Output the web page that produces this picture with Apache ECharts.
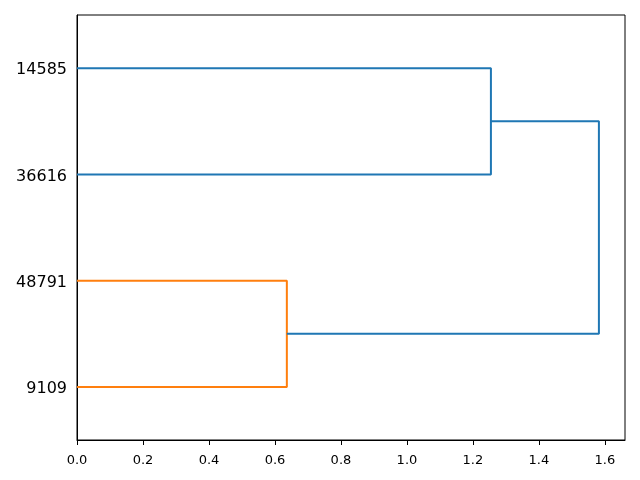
<!DOCTYPE html>
<html>
<head>
<meta charset="utf-8">
<script src="https://cdn.jsdelivr.net/npm/echarts@6/dist/echarts.min.js"></script>
<style>html,body{margin:0;padding:0;background:#fff;}#c{width:640px;height:480px;}</style>
</head>
<body>
<div id="c"></div>
<script>
// Leaf labels and their positions (scipy dendrogram coordinates)
var leafLabels = ['9109', '48791', '36616', '14585'];
var leafPos = [5, 15, 25, 35];
// Link coordinates: icoord = leaf-axis (y), dcoord = distance (x)
var icoord = [[5, 5, 15, 15], [25, 25, 35, 35], [10, 10, 30, 30]];
var dcoord = [[0, 0.636, 0.636, 0], [0, 1.2545, 1.2545, 0], [0.636, 1.5818, 1.5818, 1.2545]];
var linkColors = ['#ff7f0e', '#1f77b4', '#1f77b4'];
var xTicks = [0, 0.2, 0.4, 0.6, 0.8, 1.0, 1.2, 1.4, 1.6];
var xMax = 1.5818 * 1.05;
var yMax = 40;

var series = icoord.map(function (ys, i) {
  return {
    type: 'line',
    data: ys.map(function (y, j) { return [dcoord[i][j], y]; }),
    showSymbol: false,
    symbol: 'none',
    lineStyle: { color: linkColors[i], width: 2 },
    itemStyle: { color: linkColors[i] },
    animation: false,
    silent: true
  };
});

var chart = echarts.init(document.getElementById('c'), null, { renderer: 'canvas' });
chart.setOption({
  backgroundColor: '#fff',
  animation: false,
  grid: { left: 77, right: 15, top: 15, bottom: 40, show: true, borderColor: '#000', borderWidth: 1, backgroundColor: 'transparent' },
  xAxis: {
    type: 'value', min: 0, max: xMax,
    splitLine: { show: false },
    axisLine: { show: true, lineStyle: { color: '#000', width: 1 } },
    axisTick: { show: true, length: 5, customValues: xTicks, lineStyle: { color: '#000' } },
    axisLabel: { customValues: xTicks, margin: 11, color: '#000', fontSize: 13, fontFamily: 'DejaVu Sans',
      formatter: function (v) { return '{b|' + v.toFixed(1) + '}'; },
      rich: { b: { fontSize: 13, fontFamily: 'DejaVu Sans', color: '#000', padding: [3, 0, 0, 0] } } }
  },
  yAxis: {
    type: 'value', min: 0, max: yMax,
    splitLine: { show: false },
    axisLine: { show: true, lineStyle: { color: '#000', width: 1 } },
    axisTick: { show: false },
    axisLabel: { customValues: leafPos, margin: 10, color: '#000', fontSize: 16, fontFamily: 'DejaVu Sans',
      formatter: function (v) { var k = leafPos.indexOf(v); return k >= 0 ? '{a|' + leafLabels[k] + '}' : ''; },
      rich: { a: { fontSize: 16, fontFamily: 'DejaVu Sans', color: '#000', padding: [4, 0, 0, 0] } } }
  },
  series: series
});
</script>
</body>
</html>
